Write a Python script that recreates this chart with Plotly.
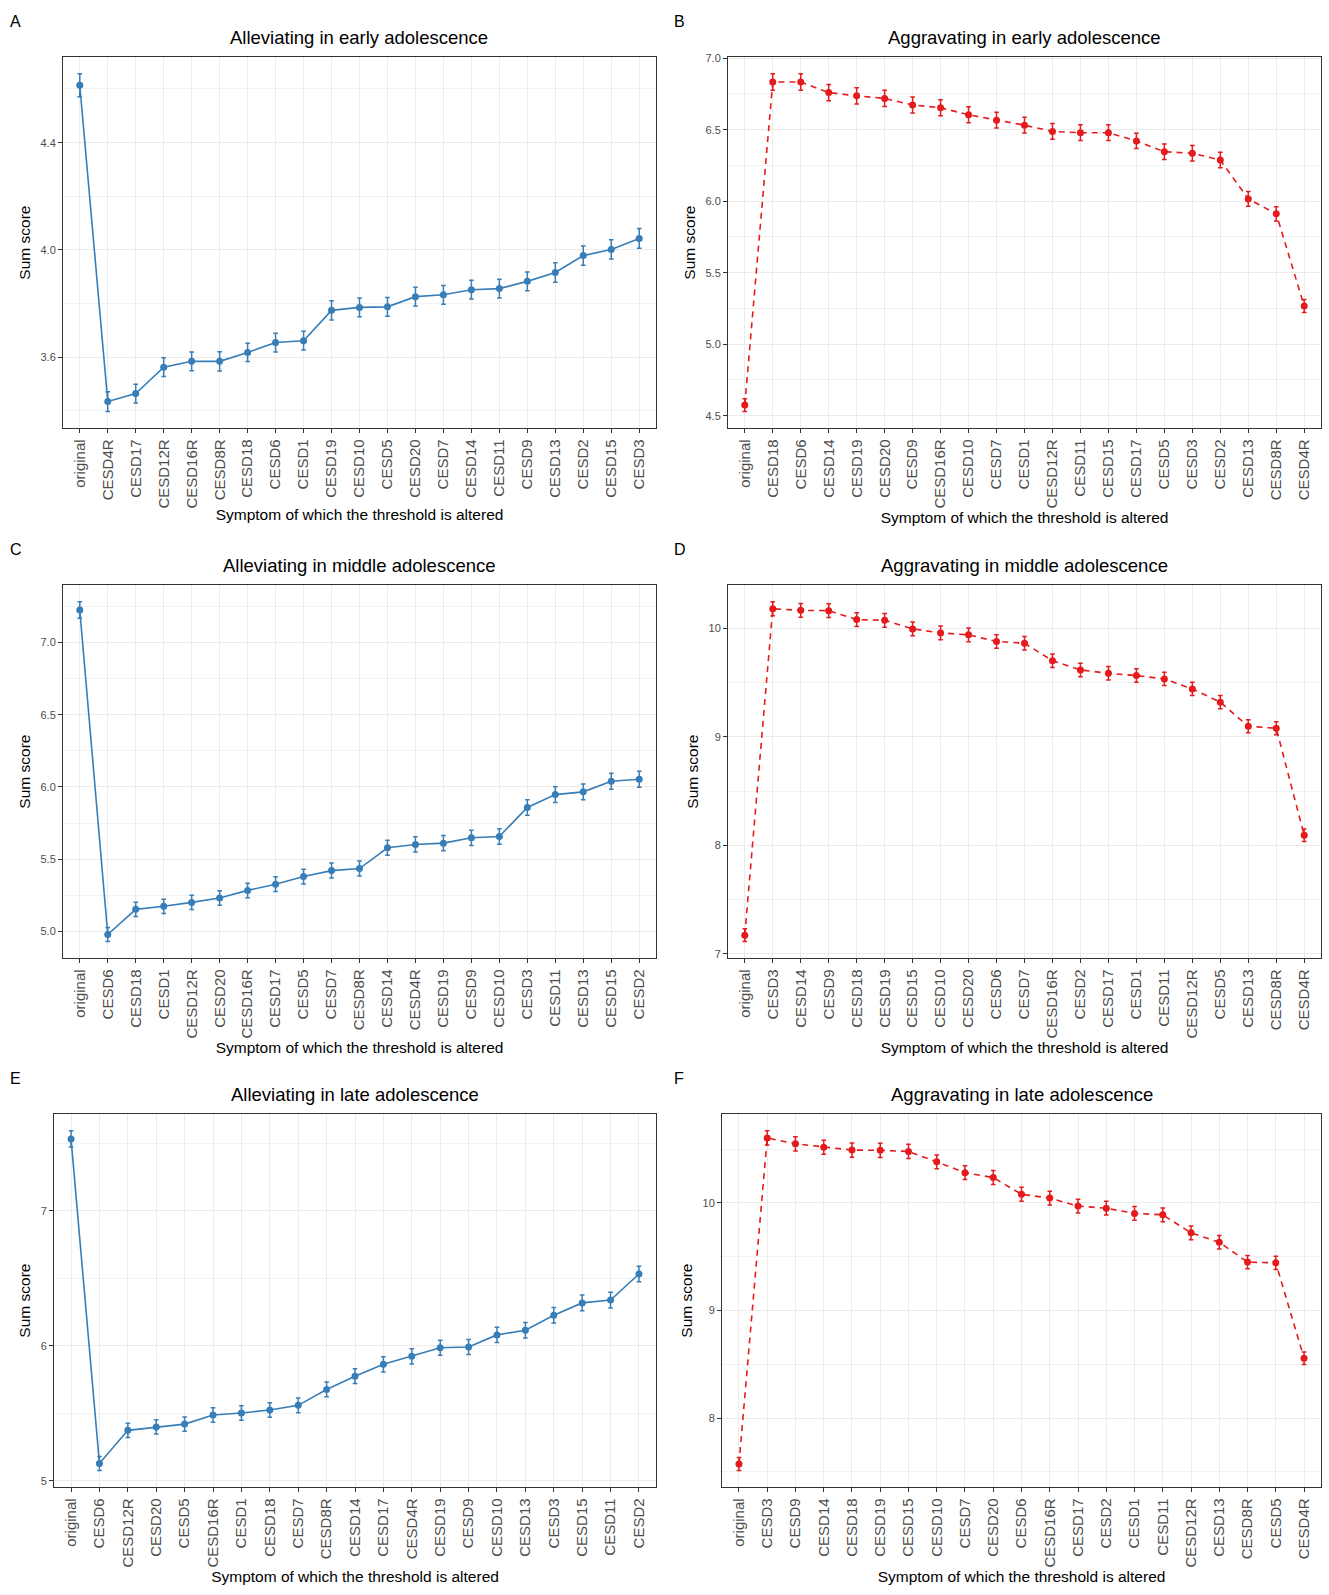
import plotly.graph_objects as go

# ---- data ----
cats_a = ["original", "CESD4R", "CESD17", "CESD12R", "CESD16R", "CESD8R", "CESD18", "CESD6", "CESD1",
          "CESD19", "CESD10", "CESD5", "CESD20", "CESD7", "CESD14", "CESD11", "CESD9", "CESD13",
          "CESD2", "CESD15", "CESD3"]
vals_a = [4.614, 3.435, 3.465, 3.563, 3.585, 3.585, 3.618, 3.655, 3.662, 3.775, 3.786, 3.788,
          3.826, 3.833, 3.852, 3.856, 3.883, 3.916, 3.979, 4.002, 4.043]
err_a = [0.043, 0.037, 0.035, 0.035, 0.035, 0.036, 0.034, 0.035, 0.035, 0.036, 0.035, 0.035,
         0.035, 0.035, 0.035, 0.035, 0.035, 0.036, 0.036, 0.036, 0.037]

cats_b = ["original", "CESD18", "CESD6", "CESD14", "CESD19", "CESD20", "CESD9", "CESD16R", "CESD10",
          "CESD7", "CESD1", "CESD12R", "CESD11", "CESD15", "CESD17", "CESD5", "CESD3", "CESD2",
          "CESD13", "CESD8R", "CESD4R"]
vals_b = [4.574, 6.834, 6.834, 6.760, 6.737, 6.719, 6.673, 6.654, 6.604, 6.567, 6.532, 6.488,
          6.479, 6.479, 6.422, 6.346, 6.336, 6.288, 6.016, 5.912, 5.267]
err_b = [0.045, 0.058, 0.058, 0.057, 0.057, 0.057, 0.056, 0.056, 0.056, 0.055, 0.055, 0.055,
         0.055, 0.055, 0.054, 0.054, 0.054, 0.054, 0.052, 0.050, 0.046]

cats_c = ["original", "CESD6", "CESD18", "CESD1", "CESD12R", "CESD20", "CESD16R", "CESD17", "CESD5",
          "CESD7", "CESD8R", "CESD14", "CESD4R", "CESD19", "CESD9", "CESD10", "CESD3", "CESD11",
          "CESD13", "CESD15", "CESD2"]
vals_c = [7.224, 4.979, 5.153, 5.174, 5.201, 5.231, 5.284, 5.327, 5.380, 5.421, 5.435, 5.579,
          5.602, 5.611, 5.648, 5.657, 5.858, 5.947, 5.966, 6.039, 6.053]
err_c = [0.057, 0.048, 0.049, 0.049, 0.050, 0.050, 0.050, 0.051, 0.051, 0.052, 0.052, 0.052,
         0.053, 0.053, 0.053, 0.053, 0.054, 0.055, 0.055, 0.055, 0.055]

cats_d = ["original", "CESD3", "CESD14", "CESD9", "CESD18", "CESD19", "CESD15", "CESD10", "CESD20",
          "CESD6", "CESD7", "CESD16R", "CESD2", "CESD17", "CESD1", "CESD11", "CESD12R", "CESD5",
          "CESD13", "CESD8R", "CESD4R"]
vals_d = [7.171, 10.183, 10.168, 10.165, 10.083, 10.076, 9.997, 9.960, 9.942, 9.881, 9.865, 9.703,
          9.618, 9.587, 9.566, 9.535, 9.443, 9.321, 9.098, 9.080, 8.092]
err_d = [0.058, 0.064, 0.064, 0.064, 0.063, 0.063, 0.063, 0.063, 0.063, 0.062, 0.062, 0.062,
         0.062, 0.062, 0.062, 0.061, 0.061, 0.061, 0.060, 0.060, 0.058]

cats_e = ["original", "CESD6", "CESD12R", "CESD20", "CESD5", "CESD16R", "CESD1", "CESD18", "CESD7",
          "CESD8R", "CESD14", "CESD17", "CESD4R", "CESD19", "CESD9", "CESD10", "CESD13", "CESD3",
          "CESD15", "CESD11", "CESD2"]
vals_e = [7.534, 5.130, 5.375, 5.400, 5.421, 5.488, 5.503, 5.526, 5.560, 5.678, 5.776, 5.864,
          5.923, 5.987, 5.992, 6.082, 6.116, 6.227, 6.319, 6.340, 6.533]
err_e = [0.060, 0.052, 0.053, 0.053, 0.053, 0.054, 0.054, 0.054, 0.054, 0.055, 0.055, 0.056,
         0.056, 0.056, 0.056, 0.057, 0.057, 0.057, 0.058, 0.058, 0.058]

cats_f = ["original", "CESD3", "CESD9", "CESD14", "CESD18", "CESD19", "CESD15", "CESD10", "CESD7",
          "CESD20", "CESD6", "CESD16R", "CESD17", "CESD2", "CESD1", "CESD11", "CESD12R", "CESD13",
          "CESD8R", "CESD5", "CESD4R"]
vals_f = [7.573, 10.605, 10.550, 10.518, 10.492, 10.489, 10.479, 10.382, 10.282, 10.236, 10.081,
          10.045, 9.971, 9.951, 9.903, 9.890, 9.722, 9.634, 9.450, 9.443, 8.557]
err_f = [0.060, 0.066, 0.066, 0.066, 0.066, 0.066, 0.066, 0.065, 0.065, 0.065, 0.064,
         0.064, 0.064, 0.064, 0.064, 0.064, 0.063, 0.063, 0.062, 0.062, 0.058]

titles = ["Alleviating in early adolescence", "Aggravating in early adolescence",
          "Alleviating in middle adolescence", "Aggravating in middle adolescence",
          "Alleviating in late adolescence", "Aggravating in late adolescence"]
letters = ["A", "B", "C", "D", "E", "F"]
y_dticks = [0.4, 0.5, 0.5, 1, 1, 1]
y_formats = [".1f", ".1f", ".1f", "d", "d", "d"]

W, H = 1329, 1595
BLUE = "#377EB8"
RED = "#E41A1C"
FONT = "Liberation Sans, Arial, sans-serif"

# plot-area boxes in pixels: left, right, top, bottom
boxes = [(63, 656, 52, 425), (728, 1321, 52, 425),
         (63, 656, 582, 957), (728, 1321, 582, 957),
         (54, 656, 1113, 1488), (722, 1321, 1113, 1488)]

panels = [(cats_a, vals_a, err_a), (cats_b, vals_b, err_b), (cats_c, vals_c, err_c),
          (cats_d, vals_d, err_d), (cats_e, vals_e, err_e), (cats_f, vals_f, err_f)]

fig = go.Figure()
annotations = []
for i, (cats, vals, errs) in enumerate(panels):
    n = i + 1
    xa = "x" if n == 1 else "x%d" % n
    ya = "y" if n == 1 else "y%d" % n
    color = BLUE if i % 2 == 0 else RED
    dash = "solid" if i % 2 == 0 else "6px,5px"
    fig.add_trace(go.Scatter(
        x=cats, y=vals, mode="lines+markers", xaxis=xa, yaxis=ya,
        line=dict(color=color, width=1.6, dash=dash),
        marker=dict(color=color, size=7),
        error_y=dict(type="data", array=errs, visible=True, color=color, thickness=1.5, width=2.3),
        showlegend=False,
    ))

    l, r, t, b = boxes[i]
    lo = min(v - e for v, e in zip(vals, errs))
    hi = max(v + e for v, e in zip(vals, errs))
    pad = 0.05 * (hi - lo)
    dt = y_dticks[i]
    key = "" if n == 1 else str(n)
    fig.layout["xaxis" + key] = dict(
        domain=[l / W, r / W], anchor=ya, type="category",
        range=[-0.6, len(cats) - 0.4], tickangle=-90,
        showgrid=True, gridcolor="#EBEBEB", gridwidth=1.1,
        showline=True, linecolor="#333333", linewidth=1, mirror=True,
        ticks="outside", ticklen=4, tickcolor="#333333",
        tickfont=dict(family=FONT, size=15, color="#4D4D4D"),
        title=dict(text="Symptom of which the threshold is altered",
                   font=dict(family=FONT, size=15.5, color="black"), standoff=1),
        zeroline=False,
    )
    fig.layout["yaxis" + key] = dict(
        domain=[1 - b / H, 1 - t / H], anchor=xa,
        range=[lo - pad, hi + pad], dtick=dt, tick0=0, tickformat=y_formats[i],
        showgrid=True, gridcolor="#EBEBEB", gridwidth=1.1,
        minor=dict(dtick=dt / 2, tick0=0, showgrid=True, gridcolor="#F2F2F2", gridwidth=0.7),
        showline=True, linecolor="#333333", linewidth=1, mirror=True,
        ticks="outside", ticklen=4, tickcolor="#333333",
        tickfont=dict(family=FONT, size=11, color="#4D4D4D"),
        title=dict(text="Sum score", font=dict(family=FONT, size=15.5, color="black"), standoff=6),
        zeroline=False,
    )
    annotations.append(dict(
        text=titles[i], x=(l + r) / 2 / W, y=1 - (t - 19) / H, xref="paper", yref="paper",
        xanchor="center", yanchor="middle", showarrow=False,
        font=dict(family=FONT, size=18.5, color="black"),
    ))
    annotations.append(dict(
        text=letters[i], x=(8 if i % 2 == 0 else 672) / W, y=1 - (t - 35) / H,
        xref="paper", yref="paper", xanchor="left", yanchor="middle", showarrow=False,
        font=dict(family=FONT, size=16, color="black"),
    ))

fig.update_layout(
    width=W, height=H, margin=dict(l=0, r=0, t=0, b=0),
    plot_bgcolor="white", paper_bgcolor="white",
    annotations=annotations,
)
fig.write_html("out.html", config={"displayModeBar": False},
               post_script="document.body.style.margin='0';")
